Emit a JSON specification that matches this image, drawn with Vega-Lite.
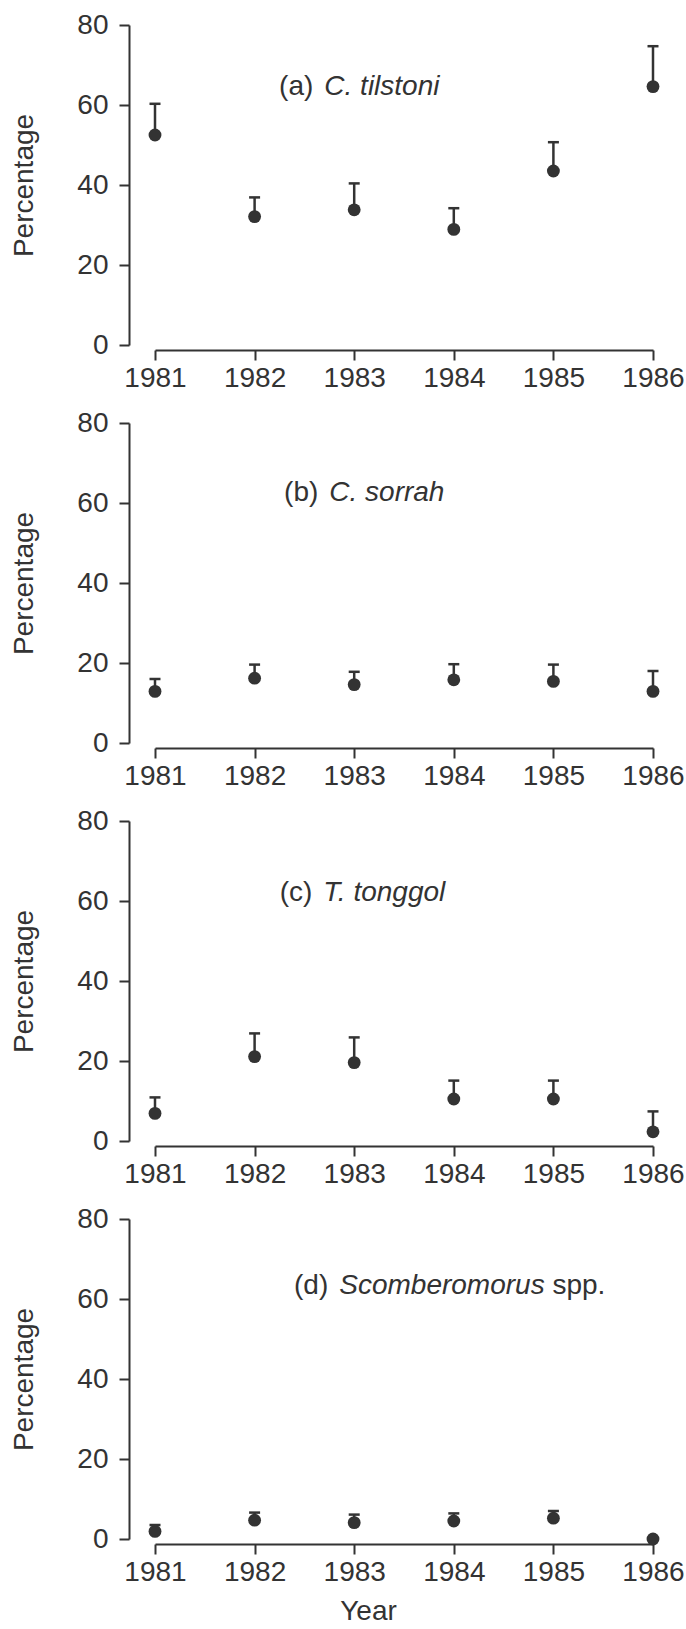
{
  "$schema": "https://vega.github.io/schema/vega-lite/v6.json",
  "padding": {"left": 10, "top": 11, "right": 0, "bottom": 0},
  "background": "white",
  "spacing": 17,
  "config": {
    "font": "Liberation Sans",
    "view": {"stroke": null},
    "axis": {
      "grid": false,
      "domainColor": "#333333",
      "tickColor": "#333333",
      "labelColor": "#333333",
      "titleColor": "#333333",
      "domainWidth": 2,
      "tickWidth": 2,
      "labelFontSize": 28,
      "titleFontSize": 28,
      "titleFontWeight": "normal",
      "labelFont": "Liberation Sans",
      "titleFont": "Liberation Sans"
    },
    "axisX": {
      "offset": 5,
      "tickSize": 10,
      "labelPadding": 4,
      "labelFlush": false,
      "labelOverlap": false
    },
    "axisY": {
      "offset": 26,
      "tickSize": 10,
      "labelPadding": 11,
      "titlePadding": 38
    }
  },
  "datasets": {
    "catch": [
      {"panel": "a", "year": 1981, "value": 52.5, "upper": 60.3},
      {"panel": "a", "year": 1982, "value": 32.1, "upper": 36.9},
      {"panel": "a", "year": 1983, "value": 33.8, "upper": 40.4},
      {"panel": "a", "year": 1984, "value": 28.9, "upper": 34.2},
      {"panel": "a", "year": 1985, "value": 43.5, "upper": 50.7},
      {"panel": "a", "year": 1986, "value": 64.6, "upper": 74.7},
      {"panel": "b", "year": 1981, "value": 12.9, "upper": 16.0},
      {"panel": "b", "year": 1982, "value": 16.2, "upper": 19.6},
      {"panel": "b", "year": 1983, "value": 14.6, "upper": 17.8},
      {"panel": "b", "year": 1984, "value": 15.8, "upper": 19.7},
      {"panel": "b", "year": 1985, "value": 15.4, "upper": 19.6},
      {"panel": "b", "year": 1986, "value": 12.9, "upper": 18.0},
      {"panel": "c", "year": 1981, "value": 6.9, "upper": 10.9},
      {"panel": "c", "year": 1982, "value": 21.1, "upper": 26.9},
      {"panel": "c", "year": 1983, "value": 19.6, "upper": 25.9},
      {"panel": "c", "year": 1984, "value": 10.5, "upper": 15.1},
      {"panel": "c", "year": 1985, "value": 10.5, "upper": 15.1},
      {"panel": "c", "year": 1986, "value": 2.3, "upper": 7.4},
      {"panel": "d", "year": 1981, "value": 1.9, "upper": 3.5},
      {"panel": "d", "year": 1982, "value": 4.7, "upper": 6.6},
      {"panel": "d", "year": 1983, "value": 4.1, "upper": 6.1},
      {"panel": "d", "year": 1984, "value": 4.5, "upper": 6.4},
      {"panel": "d", "year": 1985, "value": 5.2, "upper": 7.0},
      {"panel": "d", "year": 1986, "value": 0.0, "upper": 0.0}
    ],
    "labels": [
      {"panel": "a", "prefix": "(a)", "species": "C. tilstoni", "suffix": ""},
      {"panel": "b", "prefix": "(b)", "species": "C. sorrah", "suffix": ""},
      {"panel": "c", "prefix": "(c)", "species": "T. tonggol", "suffix": ""},
      {"panel": "d", "prefix": "(d)", "species": "Scomberomorus", "suffix": "spp."}
    ]
  },
  "vconcat": [
    {
      "width": 498, "height": 320,
      "layer": [
        {
          "data": {"name": "catch"},
          "transform": [{"filter": "datum.panel === 'a' && datum.upper > datum.value"}],
          "mark": {"type": "rule", "color": "#333333", "strokeWidth": 2.5},
          "encoding": {
            "x": {"field": "year", "type": "quantitative", "scale": {"domain": [1981, 1986]}, "axis": {"title": null, "values": [1981, 1982, 1983, 1984, 1985, 1986], "format": "d"}},
            "y": {"field": "value", "type": "quantitative", "scale": {"domain": [0, 80]}, "axis": {"title": "Percentage", "values": [0, 10, 20, 30, 40, 50, 60, 70, 80], "labelExpr": "datum.value % 20 === 0 ? datum.label : ''"}},
            "y2": {"field": "upper"}
          }
        },
        {
          "data": {"name": "catch"},
          "transform": [{"filter": "datum.panel === 'a' && datum.upper > datum.value"}],
          "mark": {"type": "tick", "orient": "horizontal", "size": 11, "thickness": 2.5, "color": "#333333", "opacity": 1},
          "encoding": {
            "x": {"field": "year", "type": "quantitative"},
            "y": {"field": "upper", "type": "quantitative"}
          }
        },
        {
          "data": {"name": "catch"},
          "transform": [{"filter": "datum.panel === 'a'"}],
          "mark": {"type": "circle", "size": 165, "color": "#333333", "opacity": 1},
          "encoding": {
            "x": {"field": "year", "type": "quantitative"},
            "y": {"field": "value", "type": "quantitative"}
          }
        },
        {
          "data": {"name": "labels"},
          "transform": [{"filter": "datum.panel === 'a'"}],
          "mark": {"type": "text", "align": "right", "baseline": "alphabetic", "dx": -11, "fontSize": 28, "color": "#333333"},
          "encoding": {"x": {"datum": 1982.7}, "y": {"datum": 62.4}, "text": {"field": "prefix"}}
        },
        {
          "data": {"name": "labels"},
          "transform": [{"filter": "datum.panel === 'a'"}],
          "mark": {"type": "text", "align": "left", "baseline": "alphabetic", "fontStyle": "italic", "fontSize": 28, "color": "#333333"},
          "encoding": {"x": {"datum": 1982.7}, "y": {"datum": 62.4}, "text": {"field": "species"}}
        }
      ]
    },
    {
      "width": 498, "height": 320,
      "layer": [
        {
          "data": {"name": "catch"},
          "transform": [{"filter": "datum.panel === 'b' && datum.upper > datum.value"}],
          "mark": {"type": "rule", "color": "#333333", "strokeWidth": 2.5},
          "encoding": {
            "x": {"field": "year", "type": "quantitative", "scale": {"domain": [1981, 1986]}, "axis": {"title": null, "values": [1981, 1982, 1983, 1984, 1985, 1986], "format": "d"}},
            "y": {"field": "value", "type": "quantitative", "scale": {"domain": [0, 80]}, "axis": {"title": "Percentage", "values": [0, 10, 20, 30, 40, 50, 60, 70, 80], "labelExpr": "datum.value % 20 === 0 ? datum.label : ''"}},
            "y2": {"field": "upper"}
          }
        },
        {
          "data": {"name": "catch"},
          "transform": [{"filter": "datum.panel === 'b' && datum.upper > datum.value"}],
          "mark": {"type": "tick", "orient": "horizontal", "size": 11, "thickness": 2.5, "color": "#333333", "opacity": 1},
          "encoding": {
            "x": {"field": "year", "type": "quantitative"},
            "y": {"field": "upper", "type": "quantitative"}
          }
        },
        {
          "data": {"name": "catch"},
          "transform": [{"filter": "datum.panel === 'b'"}],
          "mark": {"type": "circle", "size": 165, "color": "#333333", "opacity": 1},
          "encoding": {
            "x": {"field": "year", "type": "quantitative"},
            "y": {"field": "value", "type": "quantitative"}
          }
        },
        {
          "data": {"name": "labels"},
          "transform": [{"filter": "datum.panel === 'b'"}],
          "mark": {"type": "text", "align": "right", "baseline": "alphabetic", "dx": -11, "fontSize": 28, "color": "#333333"},
          "encoding": {"x": {"datum": 1982.75}, "y": {"datum": 60.5}, "text": {"field": "prefix"}}
        },
        {
          "data": {"name": "labels"},
          "transform": [{"filter": "datum.panel === 'b'"}],
          "mark": {"type": "text", "align": "left", "baseline": "alphabetic", "fontStyle": "italic", "fontSize": 28, "color": "#333333"},
          "encoding": {"x": {"datum": 1982.75}, "y": {"datum": 60.5}, "text": {"field": "species"}}
        }
      ]
    },
    {
      "width": 498, "height": 320,
      "layer": [
        {
          "data": {"name": "catch"},
          "transform": [{"filter": "datum.panel === 'c' && datum.upper > datum.value"}],
          "mark": {"type": "rule", "color": "#333333", "strokeWidth": 2.5},
          "encoding": {
            "x": {"field": "year", "type": "quantitative", "scale": {"domain": [1981, 1986]}, "axis": {"title": null, "values": [1981, 1982, 1983, 1984, 1985, 1986], "format": "d"}},
            "y": {"field": "value", "type": "quantitative", "scale": {"domain": [0, 80]}, "axis": {"title": "Percentage", "values": [0, 10, 20, 30, 40, 50, 60, 70, 80], "labelExpr": "datum.value % 20 === 0 ? datum.label : ''"}},
            "y2": {"field": "upper"}
          }
        },
        {
          "data": {"name": "catch"},
          "transform": [{"filter": "datum.panel === 'c' && datum.upper > datum.value"}],
          "mark": {"type": "tick", "orient": "horizontal", "size": 11, "thickness": 2.5, "color": "#333333", "opacity": 1},
          "encoding": {
            "x": {"field": "year", "type": "quantitative"},
            "y": {"field": "upper", "type": "quantitative"}
          }
        },
        {
          "data": {"name": "catch"},
          "transform": [{"filter": "datum.panel === 'c'"}],
          "mark": {"type": "circle", "size": 165, "color": "#333333", "opacity": 1},
          "encoding": {
            "x": {"field": "year", "type": "quantitative"},
            "y": {"field": "value", "type": "quantitative"}
          }
        },
        {
          "data": {"name": "labels"},
          "transform": [{"filter": "datum.panel === 'c'"}],
          "mark": {"type": "text", "align": "right", "baseline": "alphabetic", "dx": -11, "fontSize": 28, "color": "#333333"},
          "encoding": {"x": {"datum": 1982.69}, "y": {"datum": 60.1}, "text": {"field": "prefix"}}
        },
        {
          "data": {"name": "labels"},
          "transform": [{"filter": "datum.panel === 'c'"}],
          "mark": {"type": "text", "align": "left", "baseline": "alphabetic", "fontStyle": "italic", "fontSize": 28, "color": "#333333"},
          "encoding": {"x": {"datum": 1982.69}, "y": {"datum": 60.1}, "text": {"field": "species"}}
        }
      ]
    },
    {
      "width": 498, "height": 320,
      "layer": [
        {
          "data": {"name": "catch"},
          "transform": [{"filter": "datum.panel === 'd' && datum.upper > datum.value"}],
          "mark": {"type": "rule", "color": "#333333", "strokeWidth": 2.5},
          "encoding": {
            "x": {"field": "year", "type": "quantitative", "scale": {"domain": [1981, 1986]}, "axis": {"title": "Year", "values": [1981, 1982, 1983, 1984, 1985, 1986], "format": "d", "titleX": 213, "titleAlign": "center", "titlePadding": 11}},
            "y": {"field": "value", "type": "quantitative", "scale": {"domain": [0, 80]}, "axis": {"title": "Percentage", "values": [0, 10, 20, 30, 40, 50, 60, 70, 80], "labelExpr": "datum.value % 20 === 0 ? datum.label : ''"}},
            "y2": {"field": "upper"}
          }
        },
        {
          "data": {"name": "catch"},
          "transform": [{"filter": "datum.panel === 'd' && datum.upper > datum.value"}],
          "mark": {"type": "tick", "orient": "horizontal", "size": 11, "thickness": 2.5, "color": "#333333", "opacity": 1},
          "encoding": {
            "x": {"field": "year", "type": "quantitative"},
            "y": {"field": "upper", "type": "quantitative"}
          }
        },
        {
          "data": {"name": "catch"},
          "transform": [{"filter": "datum.panel === 'd'"}],
          "mark": {"type": "circle", "size": 165, "color": "#333333", "opacity": 1},
          "encoding": {
            "x": {"field": "year", "type": "quantitative"},
            "y": {"field": "value", "type": "quantitative"}
          }
        },
        {
          "data": {"name": "labels"},
          "transform": [{"filter": "datum.panel === 'd'"}],
          "mark": {"type": "text", "align": "right", "baseline": "alphabetic", "dx": -11, "fontSize": 28, "color": "#333333"},
          "encoding": {"x": {"datum": 1982.85}, "y": {"datum": 61.3}, "text": {"field": "prefix"}}
        },
        {
          "data": {"name": "labels"},
          "transform": [{"filter": "datum.panel === 'd'"}],
          "mark": {"type": "text", "align": "left", "baseline": "alphabetic", "fontStyle": "italic", "fontSize": 28, "color": "#333333"},
          "encoding": {"x": {"datum": 1982.85}, "y": {"datum": 61.3}, "text": {"field": "species"}}
        },
        {
          "data": {"name": "labels"},
          "transform": [{"filter": "datum.panel === 'd'"}],
          "mark": {"type": "text", "align": "left", "baseline": "alphabetic", "fontSize": 28, "color": "#333333"},
          "encoding": {"x": {"datum": 1984.99}, "y": {"datum": 61.3}, "text": {"field": "suffix"}}
        }
      ]
    }
  ]
}
